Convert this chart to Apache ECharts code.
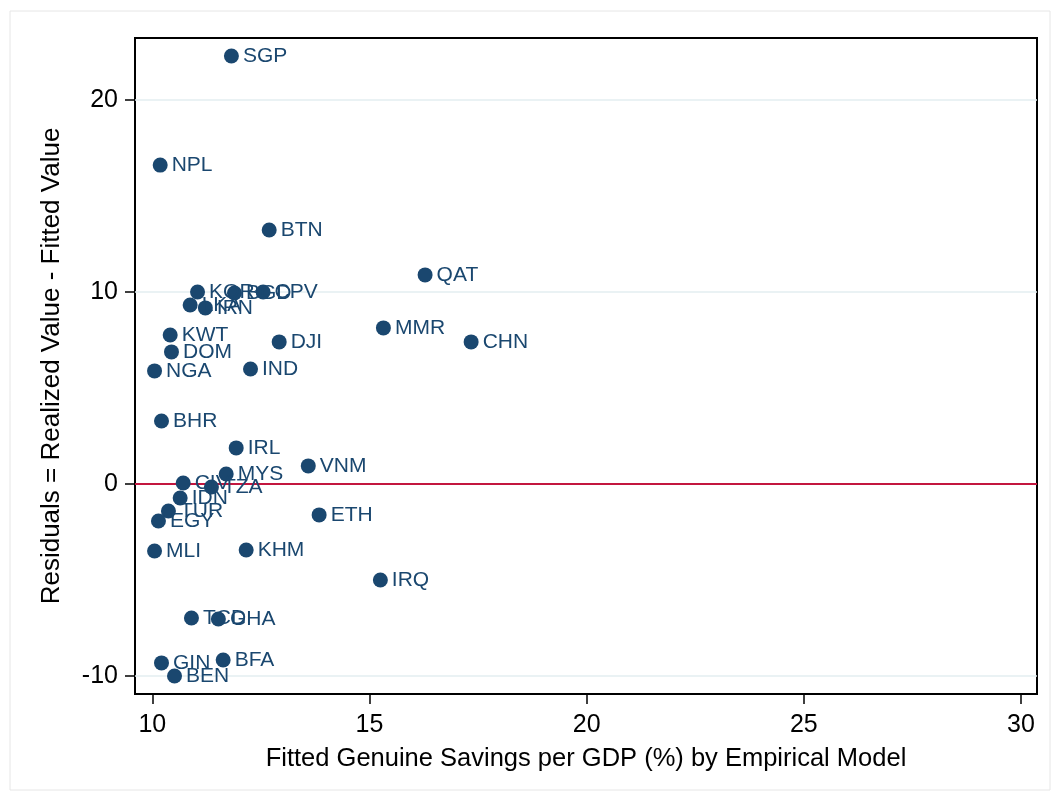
<!DOCTYPE html>
<html>
<head>
<meta charset="utf-8">
<script src="https://cdn.jsdelivr.net/npm/echarts@6/dist/echarts.min.js"></script>
<style>
  html, body { margin: 0; padding: 0; background: #fff; }
  #main { width: 1054px; height: 793px; }
</style>
</head>
<body>
<div id="main"></div>
<script>
// country codes and the two plotted values
const countries = ["SGP", "NPL", "BTN", "QAT", "KOR", "BGD", "CPV", "LKA", "IRN", "KWT",
  "DOM", "NGA", "MMR", "CHN", "DJI", "IND", "BHR", "IRL", "VNM", "MYS",
  "CIV", "TZA", "IDN", "TUR", "EGY", "ETH", "MLI", "KHM", "IRQ", "TCD",
  "GHA", "GIN", "BFA", "BEN"];
const fitted = [11.82, 10.18, 12.69, 16.28, 11.04, 11.89, 12.55, 10.87, 11.22, 10.41,
  10.44, 10.05, 15.32, 17.34, 12.92, 12.26, 10.21, 11.93, 13.59, 11.70,
  10.71, 11.36, 10.64, 10.37, 10.14, 13.84, 10.05, 12.16, 15.25, 10.90,
  11.52, 10.21, 11.63, 10.51];
const residuals = [22.29, 16.61, 13.23, 10.89, 10.0, 9.95, 10.0, 9.32, 9.17, 7.76,
  6.88, 5.89, 8.13, 7.40, 7.40, 5.99, 3.28, 1.88, 0.94, 0.52,
  0.05, -0.16, -0.73, -1.41, -1.93, -1.61, -3.49, -3.44, -5.0, -6.98,
  -7.03, -9.32, -9.17, -10.0];
const xTicks = [10, 15, 20, 25, 30];
const yTicks = [-10, 0, 10, 20];

const navy = "#1a476f";
const font = "'Liberation Sans', Arial, Helvetica, sans-serif";

const chart = echarts.init(document.getElementById("main"));

const points = countries.map((c, i) => ({ name: c, value: [fitted[i], residuals[i]] }));

const option = {
  animation: false,
  backgroundColor: "#fff",
  graphic: [{
    type: "rect",
    shape: { x: 10, y: 11, width: 1040, height: 779 },
    style: { fill: "none", stroke: "#e6e6e6", lineWidth: 1 },
    silent: true
  }],
  grid: {
    left: 135, right: 17, top: 38, bottom: 99,
    show: true, borderColor: "#000", borderWidth: 2, backgroundColor: "transparent"
  },
  xAxis: {
    type: "value", min: 9.6, max: 30.37,
    name: "Fitted Genuine Savings per GDP (%) by Empirical Model",
    nameLocation: "middle", nameGap: 52,
    nameTextStyle: { fontFamily: font, fontSize: 25.5, color: "#000" },
    axisLine: { onZero: false, lineStyle: { color: "#000", width: 2 } },
    axisTick: { show: true, customValues: xTicks, length: 10, lineStyle: { color: "#000", width: 1.5 } },
    axisLabel: { customValues: xTicks, margin: 19, fontFamily: font, fontSize: 25, color: "#000" },
    splitLine: { show: false }
  },
  yAxis: {
    type: "value", min: -10.94, max: 23.23,
    name: "Residuals = Realized Value - Fitted Value",
    nameLocation: "middle", nameGap: 70,
    nameTextStyle: { fontFamily: font, fontSize: 26, color: "#000" },
    axisLine: { onZero: false, lineStyle: { color: "#000", width: 2 } },
    axisTick: { show: true, customValues: yTicks, length: 10, lineStyle: { color: "#000", width: 1.5 } },
    axisLabel: { customValues: yTicks, margin: 17, fontFamily: font, fontSize: 25, color: "#000" },
    splitLine: { show: false }
  },
  series: [{
    type: "scatter",
    data: points,
    symbolSize: 15,
    itemStyle: { color: navy, opacity: 1 },
    label: {
      show: true, position: "right", distance: 4, offset: [0, 2],
      formatter: p => p.name,
      fontFamily: font, fontSize: 21, color: navy
    },
    labelLayout: { hideOverlap: false },
    markLine: {
      silent: true, symbol: "none", label: { show: false },
      data: [
        { yAxis: -10, lineStyle: { color: "#e3eef0", width: 1.5, type: "solid" } },
        { yAxis: 10, lineStyle: { color: "#e3eef0", width: 1.5, type: "solid" } },
        { yAxis: 20, lineStyle: { color: "#e3eef0", width: 1.5, type: "solid" } },
        { yAxis: 0, lineStyle: { color: "#c3163f", width: 2, type: "solid" } }
      ],
      z: 1
    },
    z: 3
  }]
};

chart.setOption(option);
</script>
</body>
</html>
